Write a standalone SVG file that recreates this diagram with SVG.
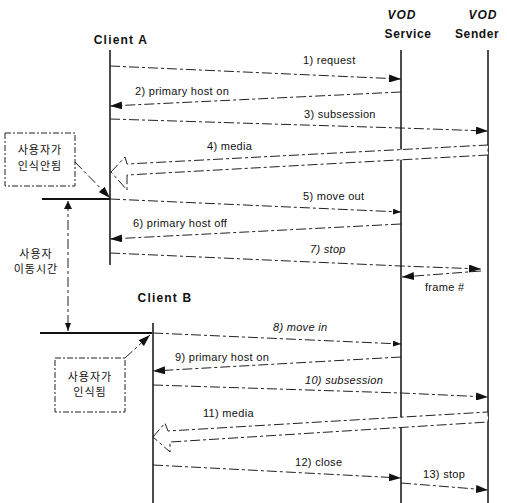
<svg xmlns="http://www.w3.org/2000/svg" width="507" height="503" viewBox="0 0 507 503">
<style>
.hd{font-family:"Liberation Sans",Arial,sans-serif;font-weight:bold;font-size:12px;fill:#111}
.hi{font-style:italic}
.lb{font-family:"Liberation Sans",Arial,sans-serif;font-size:11px;fill:#111;letter-spacing:0.3px}
.it{font-style:italic}
.kr{font-family:"Liberation Sans","Noto Sans CJK KR",sans-serif;font-size:11px;fill:#111;letter-spacing:1px}
.life{stroke:#111;stroke-width:1.5;fill:none}
.msg{stroke:#222;stroke-width:1;fill:none;stroke-dasharray:10 3 3 3}
.blk{stroke:#222;stroke-width:1;fill:#fff;stroke-dasharray:10 3 3 3}
.box{stroke:#222;stroke-width:1;fill:#fff;stroke-dasharray:6 2 2 2}
.thick{stroke:#111;stroke-width:2.2;fill:none}
</style>
<defs>
<marker id="ah" markerUnits="userSpaceOnUse" markerWidth="12" markerHeight="8" refX="12" refY="4" orient="auto">
<path d="M0,0 L12,4 L0,8 z" fill="#111"/>
</marker>
<marker id="ahs" markerUnits="userSpaceOnUse" markerWidth="8" markerHeight="6" refX="8" refY="3" orient="auto">
<path d="M0,0 L8,3 L0,6 z" fill="#111"/>
</marker>
<marker id="ahb" markerUnits="userSpaceOnUse" markerWidth="8" markerHeight="8" refX="0" refY="4" orient="auto">
<path d="M8,0 L0,4 L8,8 z" fill="#111"/>
</marker>
</defs>

<g id="clientA">
<text class="hd" x="121" y="44" text-anchor="middle" letter-spacing="1.2">Client A</text>
<line class="life" x1="110" y1="50" x2="110" y2="265"/>
</g>
<g id="vodService">
<text class="hd hi" x="402" y="19" text-anchor="middle" letter-spacing="1">VOD</text>
<text class="hd" x="408" y="38" text-anchor="middle" letter-spacing="0.6">Service</text>
<line class="life" x1="401" y1="50" x2="401" y2="503"/>
</g>
<g id="vodSender">
<text class="hd hi" x="483" y="19" text-anchor="middle" letter-spacing="1">VOD</text>
<text class="hd" x="455" y="38" letter-spacing="0.6">Sender</text>
<line class="life" x1="488" y1="50" x2="488" y2="503"/>
</g>
<g id="clientB">
<text class="hd" x="165" y="302" text-anchor="middle" letter-spacing="1.2">Client B</text>
<line class="life" x1="153" y1="323" x2="153" y2="503"/>
</g>

<g id="noteA">
<rect class="box" x="5" y="133" width="70" height="53"/>
<text class="kr" x="40" y="154" text-anchor="middle">사용자가</text>
<text class="kr" x="40" y="170" text-anchor="middle">인식안됨</text>
</g>
<g id="moveTime">
<text class="kr" x="36" y="258" text-anchor="middle">사용자</text>
<text class="kr" x="36" y="273" text-anchor="middle">이동시간</text>
</g>
<g id="noteB">
<rect class="box" x="55" y="358" width="70" height="54"/>
<text class="kr" x="90" y="381" text-anchor="middle">사용자가</text>
<text class="kr" x="90" y="396" text-anchor="middle">인식됨</text>
</g>

<g id="connectors">
<!-- Client A side -->
<line class="msg" x1="110" y1="66" x2="401" y2="79" marker-end="url(#ah)"/>
<text class="lb" x="303" y="64">1) request</text>
<line class="msg" x1="401" y1="92" x2="110" y2="106" marker-end="url(#ah)"/>
<text class="lb" x="135" y="95">2) primary host  on</text>
<polyline class="msg" points="110,119 401,128 488,131" marker-end="url(#ah)"/>
<text class="lb" x="304" y="118">3) subsession</text>
<polygon class="blk" points="111,172 125,157 127,164 488,145 488,155 127,175 127,190"/>
<text class="lb" x="207" y="150">4) media</text>
<line class="msg" x1="110" y1="199" x2="401" y2="212" marker-end="url(#ahs)"/>
<text class="lb" x="303" y="200">5) move out</text>
<line class="msg" x1="401" y1="224" x2="110" y2="239" marker-end="url(#ah)"/>
<text class="lb" x="133" y="227">6) primary host off</text>
<polyline class="msg" points="110,253 401,266 481,269" marker-end="url(#ah)"/>
<text class="lb it" x="310" y="253">7) stop</text>
<line class="msg" x1="481" y1="271" x2="402" y2="277" marker-end="url(#ah)"/>
<text class="lb" x="425" y="291">frame #</text>

<!-- annotations -->
<line class="msg" x1="75" y1="162" x2="110" y2="198" marker-end="url(#ah)"/>
<line class="thick" x1="42" y1="199" x2="110" y2="199"/>
<line class="msg" x1="68" y1="201" x2="68" y2="331" marker-start="url(#ahb)" marker-end="url(#ahs)"/>
<line class="thick" x1="40" y1="333" x2="152" y2="333"/>
<polyline class="msg" points="125,358 137,347 150,335" marker-end="url(#ah)"/>

<!-- Client B side -->
<line class="msg" x1="153" y1="333" x2="401" y2="344" marker-end="url(#ahs)"/>
<text class="lb it" x="273" y="331">8) move in</text>
<line class="msg" x1="401" y1="357" x2="153" y2="371" marker-end="url(#ah)"/>
<text class="lb" x="175" y="361">9) primary host on</text>
<polyline class="msg" points="153,385 401,393 488,397" marker-end="url(#ah)"/>
<text class="lb it" x="305" y="384">10)  subsession</text>
<polygon class="blk" points="153,437 165,423 168,431 488,412 488,422 170,442 170,452"/>
<text class="lb" x="203" y="417">11) media</text>
<line class="msg" x1="153" y1="465" x2="401" y2="478" marker-end="url(#ah)"/>
<text class="lb" x="295" y="466">12) close</text>
<line class="msg" x1="401" y1="483" x2="488" y2="490" marker-end="url(#ah)"/>
<text class="lb" x="423" y="478">13) stop</text>
</g>
</svg>
